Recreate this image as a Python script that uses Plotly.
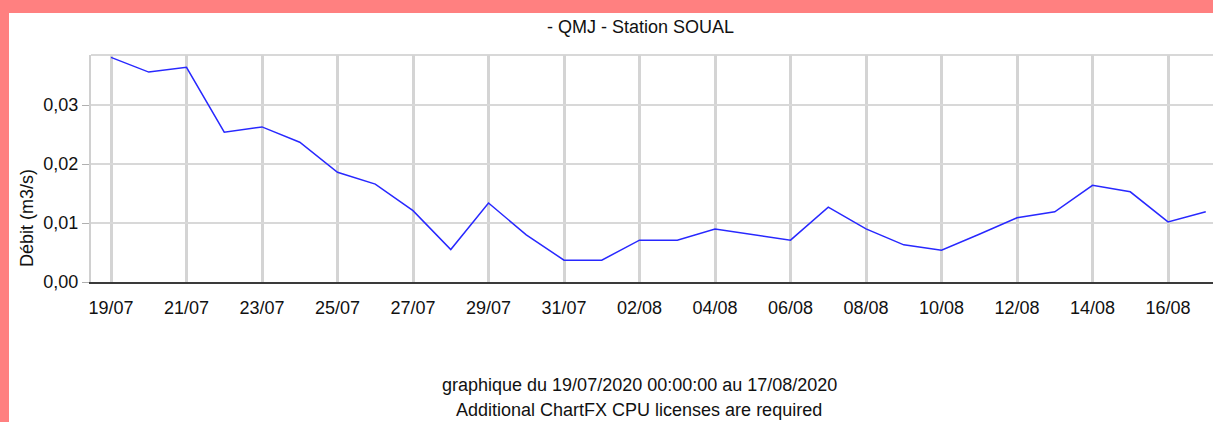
import plotly.graph_objects as go

dates = ["2020-07-19", "2020-07-20", "2020-07-21", "2020-07-22", "2020-07-23", "2020-07-24",
         "2020-07-25", "2020-07-26", "2020-07-27", "2020-07-28", "2020-07-29", "2020-07-30",
         "2020-07-31", "2020-08-01", "2020-08-02", "2020-08-03", "2020-08-04", "2020-08-05",
         "2020-08-06", "2020-08-07", "2020-08-08", "2020-08-09", "2020-08-10", "2020-08-11",
         "2020-08-12", "2020-08-13", "2020-08-14", "2020-08-15", "2020-08-16", "2020-08-17"]
debit = [0.0381, 0.0356, 0.0364, 0.0254, 0.0263, 0.0237,
         0.0186, 0.0166, 0.0121, 0.0055, 0.0134, 0.0080,
         0.0037, 0.0037, 0.0071, 0.0071, 0.0090, 0.0081,
         0.0071, 0.0127, 0.0090, 0.0063, 0.0054, 0.0081,
         0.0109, 0.0119, 0.0164, 0.0153, 0.0102, 0.0119]
y_ticks = [0.0, 0.01, 0.02, 0.03]

title = "- QMJ - Station SOUAL"
y_title = "Débit (m3/s)"
footer1 = "graphique du 19/07/2020 00:00:00 au 17/08/2020"
footer2 = "Additional ChartFX CPU licenses are required"

FONT = "Liberation Sans, Arial, sans-serif"
FS = 18
W, H = 1213, 422
L, R, T, B = 91, 0, 55, 140
pw = W - L - R
ph = H - T - B

def px(xp):
    return (xp - L) / pw

def py(yp):
    return 1 - (yp - T) / ph

fig = go.Figure()
fig.add_trace(go.Scatter(x=dates, y=debit, mode="lines",
                         line=dict(color="rgb(40,40,255)", width=1.5),
                         showlegend=False, hoverinfo="x+y"))

fig.update_layout(
    width=W, height=H, autosize=False,
    margin=dict(l=L, r=R, t=T, b=B, pad=0),
    paper_bgcolor="white", plot_bgcolor="white",
    font=dict(family=FONT, size=FS, color="#111111"),
    separators=", ",
    showlegend=False,
    xaxis=dict(type="date", range=["2020-07-18 11:17", "2020-08-17 04:36"],
               tick0="2020-07-19", dtick=2 * 86400000, tickformat="%d/%m",
               showgrid=True, gridcolor="#d4d4d4", gridwidth=3,
               showline=True, linecolor="#3a3a3a", linewidth=2,
               ticks="outside", ticklen=8, tickcolor="rgba(0,0,0,0)",
               zeroline=False, automargin=False,
               tickfont=dict(family=FONT, size=FS, color="#111111")),
    yaxis=dict(range=[0, 0.0385], tickvals=y_ticks, tickformat=".2f",
               showgrid=True, gridcolor="#d8d8d8", gridwidth=2,
               showline=True, linecolor="#d0d0d0", linewidth=2,
               ticks="outside", ticklen=7, tickcolor="#b0b0b0", tickwidth=1,
               zeroline=False, automargin=False,
               tickfont=dict(family=FONT, size=FS, color="#111111")),
)

# frame top line
fig.add_shape(type="line", xref="paper", yref="paper", x0=0, x1=1, y0=1, y1=1,
              line=dict(color="#d8d8d8", width=2), layer="below")

# pink border
PINK = "rgb(255,128,128)"
fig.add_shape(type="rect", xref="paper", yref="paper",
              x0=px(0), x1=px(W), y0=py(13), y1=py(0),
              fillcolor=PINK, line=dict(width=0), layer="above")
fig.add_shape(type="rect", xref="paper", yref="paper",
              x0=px(0), x1=px(9), y0=py(H), y1=py(0),
              fillcolor=PINK, line=dict(width=0), layer="above")

fig.add_annotation(text=title, xref="paper", yref="paper", x=px(640), y=py(27),
                   xanchor="center", yanchor="middle", showarrow=False,
                   font=dict(family=FONT, size=FS, color="#111111"))
fig.add_annotation(text=y_title, xref="paper", yref="paper", x=px(27), y=py(218),
                   xanchor="center", yanchor="middle", showarrow=False, textangle=-90,
                   font=dict(family=FONT, size=FS, color="#111111"))
fig.add_annotation(text=footer1, xref="paper", yref="paper", x=px(639), y=py(385),
                   xanchor="center", yanchor="middle", showarrow=False,
                   font=dict(family=FONT, size=FS, color="#111111"))
fig.add_annotation(text=footer2, xref="paper", yref="paper", x=px(639), y=py(410),
                   xanchor="center", yanchor="middle", showarrow=False,
                   font=dict(family=FONT, size=FS, color="#111111"))

fig.write_html("out.html", config={"displayModeBar": False},
               post_script="document.body.style.margin='0';document.body.style.overflow='hidden';")
